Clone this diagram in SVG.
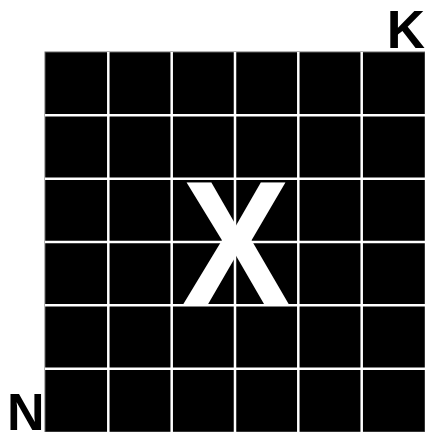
<svg xmlns="http://www.w3.org/2000/svg" width="425" height="432" viewBox="0 0 425 432">
<style>
.lbl{font-family:"Liberation Sans",Arial,sans-serif;font-weight:bold;fill:#000}
.grid line{stroke:#fff;stroke-width:2.5}
</style>
<rect width="425" height="432" fill="#fff"/>
<g id="board">
<rect x="45" y="52" width="380" height="380" fill="#000" stroke="#666" stroke-width="1"/>
<g class="grid">
<line x1="108.3" y1="52" x2="108.3" y2="432"/>
<line x1="171.7" y1="52" x2="171.7" y2="432"/>
<line x1="235" y1="52" x2="235" y2="432"/>
<line x1="298.3" y1="52" x2="298.3" y2="432"/>
<line x1="361.7" y1="52" x2="361.7" y2="432"/>
<line x1="45" y1="115.3" x2="425" y2="115.3"/>
<line x1="45" y1="178.7" x2="425" y2="178.7"/>
<line x1="45" y1="242" x2="425" y2="242"/>
<line x1="45" y1="305.3" x2="425" y2="305.3"/>
<line x1="45" y1="368.7" x2="425" y2="368.7"/>
</g>
</g>
<g id="X"><text x="236" y="304" text-anchor="middle" font-family="Liberation Sans,Arial,sans-serif" font-weight="bold" font-size="177" fill="#fff" textLength="108" lengthAdjust="spacingAndGlyphs">X</text></g>
<g id="K"><text class="lbl" x="425" y="48" text-anchor="end" font-size="53">K</text></g>
<g id="N"><text class="lbl" x="7" y="430" font-size="52">N</text></g>
</svg>
